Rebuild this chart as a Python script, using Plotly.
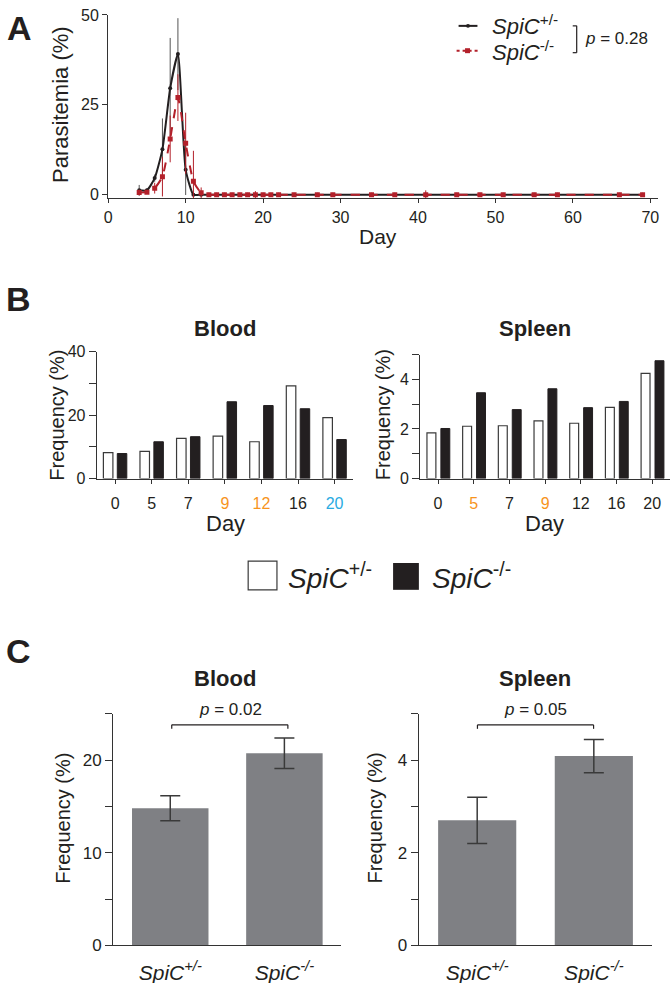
import plotly.graph_objects as go

W, H = 671, 983
FIG_H = 994
FONT = "Liberation Sans, Arial, sans-serif"
INK = "#231f20"
RED = "#b3202a"
ORANGE = "#f7941d"
BLUE = "#29abe2"
GREY = "#7f8084"

# ---------------- Panel A data ----------------
days = [4, 5, 6, 7, 8, 9, 10, 11, 12, 13, 14, 15, 16, 17, 18, 19, 20, 21, 22,
        24, 27, 29, 34, 37, 41, 45, 48, 51, 55, 58, 66, 69]
het_para = [1.2, 1.2, 4.6, 12.6, 29.6, 39.1, 6.9, 0, 0, 0, 0, 0, 0, 0, 0, 0, 0, 0, 0,
            0, 0, 0, 0, 0, 0, 0, 0, 0, 0, 0, 0, 0]
het_err = [1.5, 0.5, 1.0, 8.6, 14.0, 10.0, 7.0, 0, 0, 0, 0, 0, 0, 0, 0, 0, 0, 0, 0,
           0, 0, 0, 0, 0, 0, 0, 0, 0, 0, 0, 0, 0]
ko_para = [0.6, 0.7, 1.8, 5.0, 15.5, 27.0, 14.3, 3.7, 0.5, 0, 0, 0, 0, 0, 0, 0, 0, 0, 0,
           0, 0, 0, 0, 0, 0, 0, 0, 0, 0, 0, 0, 0]
ko_err = [0.8, 0.5, 1.5, 5.5, 6.5, 6.5, 8.5, 8.5, 1.5, 0, 0, 0, 0, 0, 0, 1.0, 0, 0, 0,
          0, 0, 0, 0, 0, 1.2, 0, 0, 0, 0, 0, 0, 0]

# ---------------- Panel B data ----------------
b_days = ["0", "5", "7", "9", "12", "16", "20"]
blood_day_colors = [INK, INK, INK, ORANGE, ORANGE, INK, BLUE]
spleen_day_colors = [INK, ORANGE, INK, ORANGE, INK, INK, INK]
blood_het = [8.2, 8.6, 12.7, 13.4, 11.6, 29.2, 19.2]
blood_ko = [7.9, 11.6, 13.2, 24.2, 23.0, 22.0, 12.3]
spleen_het = [1.84, 2.11, 2.13, 2.33, 2.23, 2.87, 4.24]
spleen_ko = [2.02, 3.46, 2.78, 3.62, 2.86, 3.11, 4.75]

# ---------------- Panel C data ----------------
genotypes = ["<i>SpiC<sup>+/-</sup></i>", "<i>SpiC<sup>-/-</sup></i>"]
c_blood = [14.8, 20.75]
c_blood_err = [1.35, 1.65]
c_spleen = [2.7, 4.09]
c_spleen_err = [0.5, 0.36]


def px(x):
    return x / W


def py(y):
    return 1 - y / H


fig = go.Figure()

# Panel A traces
fig.add_trace(go.Scatter(
    x=days, y=het_para, mode="lines+markers", xaxis="x", yaxis="y",
    line=dict(color=INK, width=2, shape="spline", smoothing=0.5),
    marker=dict(symbol="circle", size=4, color=INK),
    error_y=dict(type="data", array=het_err, visible=True, color="#555555", thickness=1, width=0),
    showlegend=False))
fig.add_trace(go.Scatter(
    x=days, y=ko_para, mode="lines+markers", xaxis="x", yaxis="y",
    line=dict(color=RED, width=2, dash="dash", shape="spline", smoothing=0.5),
    marker=dict(symbol="square", size=5, color=RED),
    error_y=dict(type="data", array=ko_err, visible=True, color=RED, thickness=1, width=0),
    showlegend=False))

# Panel B traces
for xa, ya, het, ko, wd, off_h, off_k in [("x2", "y2", blood_het, blood_ko, 0.26, -0.32, 0.06),
                                          ("x3", "y3", spleen_het, spleen_ko, 0.25, -0.31, 0.08)]:
    fig.add_trace(go.Bar(x=b_days, y=het, xaxis=xa, yaxis=ya, width=wd, offset=off_h,
                         marker=dict(color="white", line=dict(color="#3a3a3a", width=1.2)),
                         showlegend=False))
    fig.add_trace(go.Bar(x=b_days, y=ko, xaxis=xa, yaxis=ya, width=wd, offset=off_k,
                         marker=dict(color=INK, line=dict(color=INK, width=1)),
                         showlegend=False))

# Panel C traces
for xa, ya, vals, errs in [("x4", "y4", c_blood, c_blood_err), ("x5", "y5", c_spleen, c_spleen_err)]:
    fig.add_trace(go.Bar(x=genotypes, y=vals, xaxis=xa, yaxis=ya, width=0.67,
                         marker=dict(color=GREY, line=dict(width=0)),
                         error_y=dict(type="data", array=errs, visible=True, color="#3a3a3a",
                                      thickness=1.5, width=10),
                         showlegend=False))

axis_common = dict(showgrid=False, zeroline=False, showline=True, linecolor="#333333",
                   linewidth=1.3, ticks="outside", tickcolor="#333333", tickwidth=1.2,
                   tickfont=dict(family=FONT, size=16, color=INK))


def colored(labels, colors):
    return [f'<span style="color:{c}">{l}</span>' for l, c in zip(labels, colors)]


layout = dict(
    width=W, height=FIG_H, margin=dict(l=0, r=0, t=0, b=0),
    paper_bgcolor="white", plot_bgcolor="white", barmode="overlay",
    font=dict(family=FONT, color=INK),
    # A
    xaxis=dict(axis_common, domain=[px(105), px(659)], range=[0, 71], anchor="y",
               tickvals=[0, 10, 20, 30, 40, 50, 60, 70], ticklen=4),
    yaxis=dict(axis_common, domain=[py(191.6), py(7)], range=[-1, 50], anchor="x",
               tickvals=[0, 25, 50], ticklen=5),
    # B blood
    xaxis2=dict(axis_common, domain=[px(93.5), px(351.5)], range=[-0.5, 6.5], anchor="y2",
                type="category", tickvals=b_days, ticktext=colored(b_days, blood_day_colors),
                ticklen=4, ticklabelstandoff=6),
    yaxis2=dict(axis_common, domain=[py(474), py(346)], range=[0, 40], anchor="x2",
                tickvals=[0, 10, 20, 30, 40], ticktext=["0", "", "20", "", "40"], ticklen=7),
    # B spleen
    xaxis3=dict(axis_common, domain=[px(419.3), 1.0], range=[-0.5, 6.5], anchor="y3",
                type="category", tickvals=b_days, ticktext=colored(b_days, spleen_day_colors),
                ticklen=4, ticklabelstandoff=6),
    yaxis3=dict(axis_common, domain=[py(474), py(349)], range=[0, 5], anchor="x3",
                tickvals=[0, 1, 2, 3, 4, 5], ticktext=["0", "", "2", "", "4", ""], ticklen=7),
    # C blood
    xaxis4=dict(axis_common, domain=[px(110), px(340)], range=[-0.5, 1.5], anchor="y4",
                ticks="", tickfont=dict(family=FONT, size=21, color=INK), ticklabelstandoff=8),
    yaxis4=dict(axis_common, domain=[py(944), py(711)], range=[0, 25], anchor="x4",
                tickvals=[0, 5, 10, 15, 20, 25], ticktext=["0", "", "10", "", "20", ""], ticklen=7,
                tickfont=dict(family=FONT, size=17, color=INK)),
    # C spleen
    xaxis5=dict(axis_common, domain=[px(418), px(653)], range=[-0.5, 1.5], anchor="y5",
                ticks="", tickfont=dict(family=FONT, size=21, color=INK), ticklabelstandoff=8),
    yaxis5=dict(axis_common, domain=[py(944), py(711)], range=[0, 5], anchor="x5",
                tickvals=[0, 1, 2, 3, 4, 5], ticktext=["0", "", "2", "", "4", ""], ticklen=7,
                tickfont=dict(family=FONT, size=17, color=INK)),
)
fig.update_layout(**layout)


def text(x, y, s, size, bold=False, italic=False, xanchor="center", yanchor="middle", angle=0):
    if bold:
        s = f"<b>{s}</b>"
    if italic:
        s = f"<i>{s}</i>"
    fig.add_annotation(x=px(x), y=py(y), xref="paper", yref="paper", text=s, showarrow=False,
                       xanchor=xanchor, yanchor=yanchor, textangle=angle,
                       font=dict(family=FONT, size=size, color=INK))


# panel letters
text(1, 20, "A", 34, bold=True, xanchor="left")
text(0, 293, "B", 34, bold=True, xanchor="left")
text(0, 648, "C", 34, bold=True, xanchor="left")

# Panel A labels
text(57, 98, "Parasitemia (%)", 22, angle=-90)
text(377, 230, "Day", 21)
text(490, 17, "<i>SpiC</i><sup>+/-</sup>", 22, xanchor="left")
text(490, 43, "<i>SpiC</i><sup>-/-</sup>", 22, xanchor="left")
text(583, 31, "<i>p</i> = 0.28", 17, xanchor="left")

shapes = []
# Panel A legend samples
shapes.append(dict(type="line", xref="paper", yref="paper", x0=px(458), x1=px(477), y0=py(18), y1=py(18),
                   line=dict(color=INK, width=2)))
shapes.append(dict(type="circle", xref="paper", yref="paper", x0=px(465.5), x1=px(469.5), y0=py(20), y1=py(16),
                   fillcolor=INK, line=dict(width=0)))
shapes.append(dict(type="line", xref="paper", yref="paper", x0=px(456), x1=px(478), y0=py(43), y1=py(43),
                   line=dict(color=RED, width=2, dash="3px,3px")))
shapes.append(dict(type="rect", xref="paper", yref="paper", x0=px(464.5), x1=px(469.5), y0=py(45.5), y1=py(40.5),
                   fillcolor=RED, line=dict(width=0)))
# bracket
for (x0, y0, x1, y1) in [(577, 18, 577, 45), (573, 18, 577, 18), (573, 45, 577, 45)]:
    shapes.append(dict(type="line", xref="paper", yref="paper", x0=px(x0), x1=px(x1), y0=py(y0), y1=py(y1),
                       line=dict(color=INK, width=1.2)))

# Panel B labels
text(223, 323, "Blood", 22, bold=True)
text(535, 323, "Spleen", 22, bold=True)
text(53, 410, "Frequency (%)", 20, angle=-90)
text(382, 410, "Frequency (%)", 20, angle=-90)
text(223, 519, "Day", 22)
text(545, 519, "Day", 22)

# Panel B legend
shapes.append(dict(type="rect", xref="paper", yref="paper", x0=px(246), x1=px(275), y0=py(586), y1=py(557),
                   fillcolor="white", line=dict(color="#3a3a3a", width=1.2)))
shapes.append(dict(type="rect", xref="paper", yref="paper", x0=px(392), x1=px(418), y0=py(586), y1=py(559),
                   fillcolor=INK, line=dict(width=0)))
text(284, 572, "<i>SpiC</i><sup>+/-</sup>", 28, xanchor="left")
text(429, 572, "<i>SpiC</i><sup>-/-</sup>", 28, xanchor="left")

# Panel C labels
text(223, 675, "Blood", 22, bold=True)
text(535, 675, "Spleen", 22, bold=True)
text(60, 816, "Frequency (%)", 20, angle=-90)
text(374, 816, "Frequency (%)", 20, angle=-90)
text(228, 707, "<i>p</i> = 0.02", 17)
text(535, 707, "<i>p</i> = 0.05", 17)
for xa, xb in [(169, 286), (477, 594)]:
    for (x0, y0, x1, y1) in [(xa, 722, xb, 722), (xa, 722, xa, 726), (xb, 722, xb, 726)]:
        shapes.append(dict(type="line", xref="paper", yref="paper", x0=px(x0), x1=px(x1), y0=py(y0), y1=py(y1),
                           line=dict(color=INK, width=1.2)))

fig.update_layout(shapes=shapes)

POST = (
    "document.documentElement.style.margin='0';"
    "document.body.style.margin='0';"
    "document.body.style.overflow='hidden';"
)
fig.write_html("out.html", config={"displayModeBar": False}, post_script=POST)
